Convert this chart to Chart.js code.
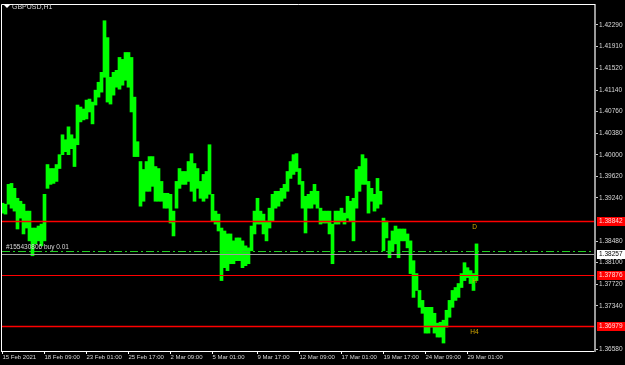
<!DOCTYPE html>
<html>
<head>
<meta charset="utf-8">
<script src="https://cdn.jsdelivr.net/npm/chart.js@4.4.1/dist/chart.umd.min.js"></script>
<style>
html, body { margin: 0; padding: 0; background: #000; }
#wrap { width: 625px; height: 365px; }
</style>
</head>
<body>
<div id="wrap"><canvas id="c" width="625" height="365"></canvas></div>
<script>
// GBPUSD H1, each entry is one ~3px column of bars (high / low)
var highs = [1.39147,1.39130,1.39479,1.39496,1.39409,1.39234,1.39182,1.39130,1.39008,1.39008,
  1.38710,1.38710,1.38745,1.38780,1.39304,1.39828,1.39758,1.39758,1.39828,1.40002,
  1.40352,1.40265,1.40492,1.40352,1.40282,1.40876,1.40841,1.40806,1.40963,1.40981,
  1.40928,1.41138,1.41277,1.41452,1.42360,1.42063,1.41365,1.41452,1.41487,1.41714,
  1.41679,1.41801,1.41801,1.41714,1.41015,1.40230,1.39881,1.39741,1.39881,1.39968,
  1.39968,1.39793,1.39758,1.39531,1.39322,1.39322,1.39304,1.39008,1.39531,1.39758,
  1.39706,1.39706,1.39881,1.40020,1.39846,1.39758,1.39531,1.39654,1.39706,1.40177,
  1.39304,1.39008,1.38955,1.38710,1.38658,1.38606,1.38606,1.38484,1.38536,1.38536,
  1.38484,1.38396,1.38361,1.38745,1.39008,1.39234,1.39008,1.38955,1.38833,1.39060,
  1.39304,1.39357,1.39357,1.39409,1.39479,1.39706,1.39881,1.40002,1.40020,1.39758,
  1.39531,1.39269,1.39304,1.39357,1.39479,1.39357,1.39060,1.39008,1.39008,1.39008,
  1.38780,1.39008,1.39008,1.39060,1.38973,1.39269,1.39182,1.39234,1.39741,1.39793,
  1.40002,1.39933,1.39531,1.39409,1.39304,1.39584,1.39357,1.38885,1.38833,1.38484,
  1.38658,1.38745,1.38693,1.38693,1.38693,1.38606,1.38484,1.38135,1.37908,1.37611,
  1.37436,1.37314,1.37314,1.37314,1.37209,1.37035,1.37052,1.37087,1.37262,1.37436,
  1.37611,1.37663,1.37733,1.37908,1.38100,1.38012,1.37960,1.37908,1.38431];
var lows = [1.38973,1.38955,1.39130,1.39060,1.39008,1.38693,1.38885,1.38606,1.38710,1.38484,
  1.38222,1.38431,1.38484,1.38396,1.38484,1.39409,1.39479,1.39496,1.39531,1.39758,
  1.40002,1.40055,1.40002,1.40107,1.39793,1.40177,1.40579,1.40614,1.40631,1.40754,
  1.40544,1.40876,1.41015,1.41103,1.41365,1.40928,1.40893,1.41050,1.41190,1.41155,
  1.41225,1.41312,1.41190,1.40754,1.39968,1.39968,1.39095,1.39182,1.39357,1.39357,
  1.39444,1.39182,1.39182,1.39182,1.39060,1.39060,1.38798,1.38571,1.39060,1.39409,
  1.39479,1.39479,1.39531,1.39357,1.39182,1.39409,1.39234,1.39182,1.39234,1.39304,
  1.38833,1.38780,1.38658,1.37785,1.38012,1.37960,1.38082,1.38082,1.38135,1.38135,
  1.38012,1.38047,1.38082,1.38309,1.38606,1.38780,1.38780,1.38606,1.38484,1.38710,
  1.38833,1.39060,1.39095,1.39182,1.39234,1.39357,1.39584,1.39654,1.39706,1.39479,
  1.39060,1.38623,1.39060,1.39060,1.39130,1.39060,1.38780,1.38798,1.38798,1.38606,
  1.38082,1.38780,1.38780,1.38833,1.38780,1.38885,1.38833,1.38484,1.39060,1.39357,
  1.39479,1.39479,1.38973,1.39182,1.39008,1.39060,1.39130,1.38309,1.38536,1.38187,
  1.38309,1.38431,1.38187,1.38484,1.38484,1.38361,1.37908,1.37489,1.37611,1.37314,
  1.37209,1.36860,1.36860,1.36965,1.36860,1.36790,1.36790,1.36685,1.36965,1.37139,
  1.37314,1.37436,1.37489,1.37663,1.37785,1.37838,1.37733,1.37611,1.37785];

var totalColumns = 198;
var timeLabels = ['15 Feb 2021','18 Feb 09:00','23 Feb 01:00','25 Feb 17:00','2 Mar 09:00','5 Mar 01:00',
  '9 Mar 17:00','12 Mar 09:00','17 Mar 01:00','19 Mar 17:00','24 Mar 09:00','29 Mar 01:00'];
var timeIdx = [0, 14, 28, 42, 56, 70, 85, 99, 113, 127, 141, 155];
var priceTicks = [1.42290,1.41910,1.41520,1.41140,1.40760,1.40380,1.40000,1.39620,1.39240,
  1.38480,1.38100,1.37720,1.37340,1.36580];
var yMin = 1.36545, yMax = 1.42639;

var levels = [1.38842, 1.37876, 1.36979];
var levelNames = ['D', 'H', 'H4'];
var levelWidths = [1.5, 1, 1.5];
var orderPrice = 1.38300;
var orderText = '#155430806 buy 0.01';
var bidPrice = 1.38257;

var FONT = "'Liberation Sans', Arial, sans-serif";

var labels = [];
for (var i = 0; i < totalColumns; i++) {
  var k = timeIdx.indexOf(i);
  labels.push(k >= 0 ? timeLabels[k] : '');
}
var ranges = highs.map(function(h, i) { return [lows[i], h]; });

var overlay = {
  id: 'overlay',
  afterDraw: function(chart) {
    var c = chart.ctx, a = chart.chartArea, ys = chart.scales.y, xs = chart.scales.x;
    var L = Math.floor(a.left), R = Math.round(a.right);
    c.save();
    // frame
    c.strokeStyle = '#ffffff';
    c.lineWidth = 1;
    c.beginPath();
    c.moveTo(L + 0.5, a.bottom);
    c.lineTo(L + 0.5, Math.floor(a.top) + 0.5);
    c.lineTo(R, Math.floor(a.top) + 0.5);
    c.stroke();

    // level lines
    levels.forEach(function(v, i) {
      var py = Math.round(ys.getPixelForValue(v));
      c.strokeStyle = '#ff0000';
      c.lineWidth = levelWidths[i];
      c.beginPath();
      c.moveTo(L + 1, py + 0.5);
      c.lineTo(R - 1, py + 0.5);
      c.stroke();
    });
    // order line
    var oy = Math.round(ys.getPixelForValue(orderPrice)) + 0.5;
    c.strokeStyle = '#22d022';
    c.lineWidth = 1;
    c.setLineDash([8, 3, 2, 3]);
    c.beginPath();
    c.moveTo(L + 1, oy);
    c.lineTo(R - 1, oy);
    c.stroke();
    c.setLineDash([]);
    // bid line
    var by = Math.round(ys.getPixelForValue(bidPrice)) + 0.5;
    c.strokeStyle = '#a0a0a0';
    c.beginPath();
    c.moveTo(L + 1, by);
    c.lineTo(R - 1, by);
    c.stroke();

    // texts
    c.font = '6.5px ' + FONT;
    c.textBaseline = 'alphabetic';
    c.textAlign = 'left';
    c.fillStyle = '#d8d8d8';
    c.fillText(orderText, 6, oy - 2.5);

    var lastX = xs.getPixelForValue(highs.length - 1);
    c.fillStyle = '#d4a800';
    c.textBaseline = 'top';
    levels.forEach(function(v, i) {
      var py = ys.getPixelForValue(v);
      var w = c.measureText(levelNames[i]).width;
      c.fillText(levelNames[i], lastX - 2 - w / 2, py + 3);
    });

    // title
    c.fillStyle = '#ffffff';
    c.beginPath();
    c.moveTo(4, 5); c.lineTo(10, 5); c.lineTo(7, 8); c.closePath();
    c.fill();
    c.fillStyle = '#d8d8d8';
    c.textBaseline = 'middle';
    c.font = '7px ' + FONT;
    c.fillText('GBPUSD,H1', 12, 7);

    // axis price boxes
    c.font = '6.5px ' + FONT;
    c.textBaseline = 'middle';
    levels.forEach(function(v) {
      var py = Math.round(ys.getPixelForValue(v));
      c.fillStyle = '#ff0000';
      c.fillRect(597, py - 4, 28, 9);
      c.fillStyle = '#ffd8d8';
      c.fillText(v.toFixed(5), 599, py + 0.5);
    });
    var bpy = Math.round(ys.getPixelForValue(bidPrice));
    c.fillStyle = '#ffffff';
    c.fillRect(597, bpy - 4, 28, 9);
    c.fillStyle = '#000000';
    c.fillText(bidPrice.toFixed(5), 599, bpy + 0.5);
    c.restore();
  }
};

new Chart(document.getElementById('c'), {
  type: 'bar',
  data: {
    labels: labels,
    datasets: [{
      data: ranges,
      backgroundColor: '#00ff00',
      borderWidth: 0,
      barPercentage: 1,
      categoryPercentage: 1
    }]
  },
  options: {
    responsive: false,
    devicePixelRatio: 1,
    animation: false,
    layout: { padding: { left: 1, top: 1, right: 0, bottom: 0 } },
    plugins: { legend: { display: false }, tooltip: { enabled: false } },
    scales: {
      x: {
        type: 'category',
        offset: true,
        afterFit: function(s) { s.height = 14; },
        grid: {
          offset: false,
          drawOnChartArea: false,
          tickLength: 3,
          color: function(ctx) { return timeIdx.indexOf(ctx.index) >= 0 ? '#ffffff' : 'rgba(0,0,0,0)'; }
        },
        border: { color: '#ffffff', width: 1 },
        ticks: {
          autoSkip: false, maxRotation: 0, minRotation: 0, align: 'start', padding: 0,
          color: '#d8d8d8', font: { family: FONT, size: 6 }
        }
      },
      y: {
        type: 'linear',
        position: 'right',
        min: yMin,
        max: yMax,
        afterFit: function(s) { s.width = 30; },
        afterBuildTicks: function(s) { s.ticks = priceTicks.map(function(v) { return { value: v }; }); },
        grid: { drawOnChartArea: false, tickLength: 3, color: '#c8c8c8' },
        border: { color: '#9a9a9a', width: 2 },
        ticks: {
          autoSkip: false, padding: 1, color: '#d8d8d8', font: { family: FONT, size: 6.5 },
          callback: function(v) { return Number(v).toFixed(5); }
        }
      }
    }
  },
  plugins: [overlay]
});
</script>
</body>
</html>
